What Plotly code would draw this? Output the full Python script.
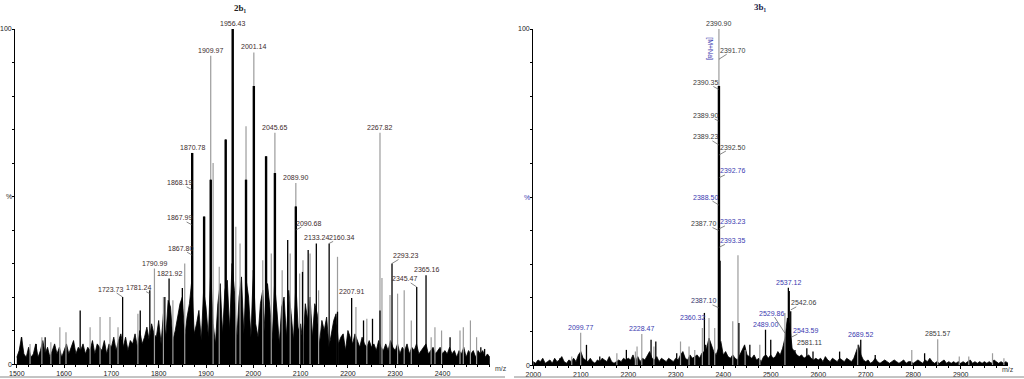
import plotly.graph_objects as go

# ---------------- DATA: left panel (2b1) ----------------
left_profile_start = 1500
left_profile_step = 5
left_profile = [
    2, 4, 8, 3, 2, 5, 2, 3, 6, 2, 4, 7, 3, 5, 2, 4, 6, 3, 5, 2,
    4, 6, 3, 5, 7, 3, 5, 4, 6, 3, 5, 4, 7, 3, 6, 5, 4, 7, 3, 6,
    5, 8, 4, 7, 9, 5, 8, 4, 7, 6, 9, 5, 10, 6, 8, 11, 7, 12, 9, 8,
    13, 6, 15, 8, 19, 17, 7, 10, 14, 18, 20, 8, 14, 18, 25, 9, 12, 16, 7, 22,
    17, 8, 28, 12, 6, 18, 24, 9, 22, 25, 10, 30, 22, 7, 20, 26, 9, 25, 20, 8,
    28, 12, 8, 18, 22, 9, 24, 17, 7, 24, 16, 6, 17, 20, 8, 22, 15, 7, 24, 10,
    12, 6, 18, 13, 20, 8, 18, 15, 6, 13, 10, 14, 5, 9, 13, 15, 6, 8, 9, 4,
    10, 8, 6, 9, 7, 5, 8, 6, 5, 7, 5, 6, 4, 7, 5, 4, 6, 4, 7, 5,
    4, 6, 3, 5, 4, 6, 3, 5, 4, 6, 3, 4, 5, 6, 3, 4, 5, 3, 4, 5,
    3, 4, 3, 5, 3, 4, 2, 4, 3, 5, 2, 4, 3, 4, 2, 4, 3, 4, 2, 3, 2,
]
left_gray_mz = [1528, 1553, 1572, 1591, 1604, 1655, 1676, 1697, 1714, 1756, 1790.99, 1810,
                1830, 1855, 1909.97, 1915, 1928, 1956.43, 1963, 1972, 1984.6, 2001.14, 2020,
                2038, 2045.65, 2061, 2078, 2089.90, 2098, 2105, 2120, 2138, 2178, 2217, 2240,
                2267.82, 2272, 2289, 2305, 2319, 2334, 2376, 2384, 2398, 2437, 2444, 2459, 2472]
left_gray_int = [6, 8, 6.5, 11, 9.5, 11, 14, 14, 11, 15, 28.5, 20,
                 19, 30, 92, 60, 29, 84, 41, 36, 71, 93, 31,
                 33, 69, 28, 33, 54, 27, 31, 33, 22, 32, 17, 13.5,
                 69, 25.7, 20.6, 21, 22, 13, 8, 11, 10, 10, 11, 13, 8]
left_black_mz = [1510, 1541, 1560, 1634, 1723.73, 1761, 1781.24, 1813, 1821.92, 1850,
                 1870.78, 1896, 1909.97, 1941.6, 1956.43, 1984.6, 2001.14, 2027, 2045.65,
                 2072.7, 2089.90, 2104, 2116, 2133.24, 2160.34, 2178, 2207.91, 2233, 2252,
                 2267.82, 2293.23, 2345.47, 2365.16, 2416, 2481, 2489]
left_black_int = [8, 6, 8, 16, 20, 16, 22, 20, 25.5, 22.7,
                  63, 44, 55, 67, 100, 55, 83, 62, 57,
                  37, 47, 27.5, 34, 36, 36, 15.6, 19.7, 13, 13.5,
                  16, 30, 23, 26.5, 8, 5, 4.5]
left_label_text = ["1956.43", "1909.97", "2001.14", "2045.65", "1870.78", "2267.82", "2089.90",
                   "1868.19", "1867.99", "1867.80", "1790.99", "1821.92", "1723.73", "1781.24",
                   "2090.68", "2133.24", "2160.34", "2293.23", "2345.47", "2365.16", "2207.91"]
left_label_mz = [1956.43, 1909.97, 2001.14, 2045.65, 1870.78, 2267.82, 2089.90,
                 1870.78, 1870.78, 1870.78, 1790.99, 1821.92, 1723.73, 1781.24,
                 2089.90, 2133.24, 2160.34, 2293.23, 2345.47, 2365.16, 2207.91]
left_label_int = [100, 92, 93, 69, 63, 69, 54,
                  52, 41.5, 32.5, 28.5, 25.5, 20, 21,
                  40, 36, 36, 30, 23, 26.5, 20]
left_xticks = [1500, 1600, 1700, 1800, 1900, 2000, 2100, 2200, 2300, 2400]

# ---------------- DATA: right panel (3b1) ----------------
right_profile_start = 2000
right_profile_step = 5
right_profile = [
    1, 0.5, 1.5, 1, 2, 0.5, 1, 1.5, 0.5, 2, 1, 1.5, 2.5, 1, 0.5, 1.5, 1, 2, 1, 3,
    4, 2, 1.5, 1, 2, 1, 0.5, 1.5, 1, 2, 1.5, 1, 2.5, 1, 0.5, 1, 1.5, 1, 2, 1.5,
    2, 1.5, 3, 1, 2.5, 1, 2, 1.5, 3, 4, 2, 1.5, 2.5, 1, 2, 1.5, 1, 2, 1.5, 1,
    2, 1.5, 3, 4, 2, 1.5, 3, 2, 2.5, 3, 2, 3.5, 4, 5, 8, 6, 4, 3, 5, 7,
    3, 4, 2.5, 2, 3, 2, 1.5, 3, 4, 6, 3, 2.5, 2, 3, 1.5, 2, 1, 2.5, 3, 2,
    3, 2, 2.5, 4, 3, 5, 8, 14, 12, 5, 4, 3, 2.5, 3, 2, 2.5, 3, 2, 1.5, 2,
    1.5, 2, 1, 2.5, 1.5, 1, 2, 1.5, 1, 2, 1.5, 1, 2, 1.5, 1, 2, 4, 6, 3, 1.5,
    1, 1.5, 0.5, 1, 2, 1, 0.5, 1, 1.5, 1, 0.5, 1, 1.5, 1, 0.5, 1, 1.5, 0.5, 1, 1,
    0.5, 1, 1.5, 1, 0.5, 1.5, 1, 2, 1, 0.5, 1, 0.5, 1, 1.5, 0.5, 1, 0.5, 1, 0.5, 1,
    0.5, 1, 0.5, 1, 1.5, 0.5, 1, 0.5, 1, 0.5, 1, 0.5, 1, 0.5, 1.5, 1, 0.5, 1, 0.5, 1, 0.5,
]
right_gray_mz = [2081, 2099.77, 2228.47, 2218.5, 2254, 2310, 2328, 2340, 2356, 2370, 2382,
                 2390.90, 2420, 2431, 2446, 2477, 2529.86, 2683, 2797, 2851.57, 2897, 2917,
                 2967, 2991, 2176, 2215]
right_gray_int = [2.5, 9.6, 9.2, 5.5, 5.5, 7, 5.5, 4.5, 11, 14, 11,
                  100, 13, 32.7, 4.5, 6, 15.5, 6, 4.5, 7.7, 2.5, 2.5,
                  3.5, 2, 3.5, 4]
right_black_mz = [2056, 2112, 2140, 2196, 2248, 2258, 2302, 2318, 2360.32, 2363, 2390.90,
                  2393.35, 2433, 2456, 2489.00, 2500, 2537.12, 2539, 2542.06, 2551, 2576,
                  2589, 2645, 2689.52, 2720, 2824]
right_black_int = [2, 6, 2.5, 4.5, 7.5, 7, 3.5, 2.5, 15.5, 6, 83,
                   31, 12.5, 6, 10.5, 7.5, 23, 22, 16, 4.5, 5,
                   4, 4, 7.5, 3, 3.5]
right_label_text = ["2390.90", "2391.70", "2390.35", "2389.90", "2389.23", "2392.50", "2392.76",
                    "2388.50", "2387.70", "2393.23", "2393.35", "2387.10", "2360.32", "2099.77",
                    "2228.47", "2489.00", "2537.12", "2542.06", "2529.86", "2543.59", "2581.11",
                    "2689.52", "2851.57"]
right_label_mz = [2390.90, 2390.90, 2390.90, 2390.90, 2390.90, 2390.90, 2390.90,
                  2390.90, 2390.90, 2390.90, 2390.90, 2390.90, 2360.32, 2099.77,
                  2228.47, 2489.00, 2537.12, 2542.06, 2529.86, 2543.59, 2581.11,
                  2689.52, 2851.57]
right_label_int = [100, 91, 82, 72.6, 65.5, 62.5, 55.7,
                   47.6, 40, 40.5, 35, 17, 13.5, 9.6,
                   9.2, 10.5, 23, 16.4, 9.5, 8.3, 5,
                   7.5, 7.7]
right_xticks = [2000, 2100, 2200, 2300, 2400, 2500, 2600, 2700, 2800, 2900]

# y-axis tick labels (value, text)
y_label_vals = [0, 50, 100]
y_label_text = ["0", "%", "100"]

# ---------------- STYLE ----------------
W, H = 1024, 379
FONT = "Liberation Sans, Arial, sans-serif"
BLUE = "#3a3ab0"
DARK = "#3a3a3a"
LEFTCOL = "#3d2b2b"
left_offsets = [None, None, None, None, None, None, None,
                (-13, -7), (-13, -7), (-12, -7), None, None, (-12, -8), (-11, -6),
                (13, -7), None, (12, -6), (13, -8), (-12, -8), None, None]
right_offsets = [None, (14, -9), (-13, -7), (-13, -6), (-13, -8), (14, -8), (14, -7),
                 (-13, -8), (-15, -7), (14, -7), (14, -7), (-15, -7), (-12, -2), None,
                 None, None, None, (13, -7), (-13, -20), (14, -7), None,
                 None, None]
right_colors = [DARK, DARK, DARK, DARK, DARK, DARK, BLUE,
                BLUE, DARK, BLUE, BLUE, "#33336a", BLUE, BLUE,
                BLUE, BLUE, BLUE, DARK, BLUE, BLUE, DARK,
                BLUE, DARK]


def sticks(mz, inten):
    xs, ys = [], []
    for m, i in zip(mz, inten):
        xs += [m, m, None]
        ys += [0, i, None]
    return xs, ys


fig = go.Figure()


def add_panel(xa, ya, start, step, profile, gmz, gint, bmz, bint):
    px = [start + k * step for k in range(len(profile))]
    fig.add_trace(go.Scatter(x=px, y=profile, mode="lines", fill="tozeroy",
                             fillcolor="black", line=dict(color="black", width=0.8),
                             xaxis=xa, yaxis=ya, hoverinfo="skip", showlegend=False))
    gx, gy = sticks(gmz, gint)
    fig.add_trace(go.Scatter(x=gx, y=gy, mode="lines", line=dict(color="#9c9c9c", width=1.2),
                             xaxis=xa, yaxis=ya, hoverinfo="skip", showlegend=False))
    bx, by = sticks(bmz, bint)
    fig.add_trace(go.Scatter(x=bx, y=by, mode="lines", line=dict(color="black", width=1.3),
                             xaxis=xa, yaxis=ya, hoverinfo="skip", showlegend=False))
    big = [(m, i) for m, i in zip(bmz, bint) if i >= 40]
    if big:
        tx, ty = sticks([b[0] for b in big], [b[1] for b in big])
        fig.add_trace(go.Scatter(x=tx, y=ty, mode="lines", line=dict(color="black", width=2.4),
                                 xaxis=xa, yaxis=ya, hoverinfo="skip", showlegend=False))


add_panel("x", "y", left_profile_start, left_profile_step, left_profile,
          left_gray_mz, left_gray_int, left_black_mz, left_black_int)
add_panel("x2", "y2", right_profile_start, right_profile_step, right_profile,
          right_gray_mz, right_gray_int, right_black_mz, right_black_int)

annotations = []


def add_labels(texts, mzs, ints, offsets, colors, xref, yref):
    for t, m, i, off, c in zip(texts, mzs, ints, offsets, colors):
        if off is None:
            annotations.append(dict(x=m, y=i, xref=xref, yref=yref, text=t, showarrow=False,
                                    yanchor="bottom", yshift=0,
                                    font=dict(family=FONT, size=7, color=c)))
        else:
            annotations.append(dict(x=m, y=i, xref=xref, yref=yref, text=t, showarrow=True,
                                    arrowhead=0, arrowwidth=0.7, arrowcolor="#555555",
                                    ax=off[0], ay=off[1], standoff=0, borderpad=0,
                                    font=dict(family=FONT, size=7, color=c)))


add_labels(left_label_text, left_label_mz, left_label_int, left_offsets,
           [LEFTCOL] * len(left_label_text), "x", "y")
add_labels(right_label_text, right_label_mz, right_label_int, right_offsets,
           right_colors, "x2", "y2")

for v, t in zip(y_label_vals, y_label_text):
    annotations.append(dict(x=12.5 / W, y=v, xref="paper", yref="y", text=t, showarrow=False,
                            xanchor="right", yanchor="middle", borderpad=0,
                            font=dict(family=FONT, size=7, color="#222")))
    annotations.append(dict(x=530.5 / W, y=v, xref="paper", yref="y2", text=t, showarrow=False,
                            xanchor="right", yanchor="middle", borderpad=0,
                            font=dict(family=FONT, size=7, color=BLUE if t == "%" else "#222")))

annotations.append(dict(x=right_label_mz[0], y=94, xref="x2", yref="y2", text="[M+Na]",
                        showarrow=False, textangle=90, xshift=-9,
                        font=dict(family=FONT, size=7, color=BLUE)))
annotations.append(dict(x=233 / W, y=1 - 8 / H, xref="paper", yref="paper", text="<b>2b₁</b>",
                        showarrow=False, yanchor="middle", borderpad=0,
                        font=dict(family="Liberation Serif, serif", size=9, color="#222")))
annotations.append(dict(x=768 / W, y=1 - 7 / H, xref="paper", yref="paper", text="<b>3b₁</b>",
                        showarrow=False, yanchor="middle", borderpad=0,
                        font=dict(family="Liberation Serif, serif", size=9, color="#22224a")))
annotations.append(dict(x=501 / W, y=1 - 368 / H, xref="paper", yref="paper", text="m/z",
                        showarrow=False, yanchor="middle",
                        font=dict(family=FONT, size=7, color=DARK)))
annotations.append(dict(x=1016 / W, y=1 - 369 / H, xref="paper", yref="paper", text="m/z",
                        showarrow=False, yanchor="middle",
                        font=dict(family=FONT, size=7, color=DARK)))

yvals = list(range(0, 101, 10))

common_x = dict(showline=True, linecolor="black", linewidth=1, ticks="outside", ticklen=3,
                tickcolor="black", tickwidth=1, showgrid=False, zeroline=False, automargin=False,
                tickfont=dict(family=FONT, size=7, color="#222"),
                minor=dict(dtick=25, ticks="outside", ticklen=2, tickcolor="black", showgrid=False))
common_y = dict(showline=True, linecolor="black", linewidth=1, ticks="outside", ticklen=2,
                tickcolor="black", showgrid=False, zeroline=False, range=[0, 100], automargin=False,
                tickvals=yvals, showticklabels=False)

fig.update_layout(
    template="none",
    width=W, height=H, margin=dict(l=0, r=0, t=0, b=0, pad=0, autoexpand=False),
    paper_bgcolor="white", plot_bgcolor="white", showlegend=False,
    xaxis=dict(domain=[15 / W, 490 / W], range=[1496.2, 2500.4], tickvals=left_xticks,
               anchor="y", **common_x),
    yaxis=dict(domain=[(H - 364) / H, (H - 29) / H], anchor="x", **common_y),
    xaxis2=dict(domain=[533 / W, 1008 / W], range=[1999.4, 2999.6], tickvals=right_xticks,
                anchor="y2", **common_x),
    yaxis2=dict(domain=[(H - 365) / H, (H - 29) / H], anchor="x2", **common_y),
    annotations=annotations,
    shapes=[
        dict(type="line", xref="paper", yref="paper", x0=0, x1=505 / W, y0=2 / H, y1=2 / H,
             line=dict(color="#888888", width=1)),
        dict(type="line", xref="paper", yref="paper", x0=514 / W, x1=1, y0=2 / H, y1=2 / H,
             line=dict(color="#888888", width=1)),
    ],
)

fig.write_html("out.html", config={"displayModeBar": False},
               post_script="document.body.style.margin='0';document.body.style.padding='0';"
                           "document.body.style.overflow='hidden';")
